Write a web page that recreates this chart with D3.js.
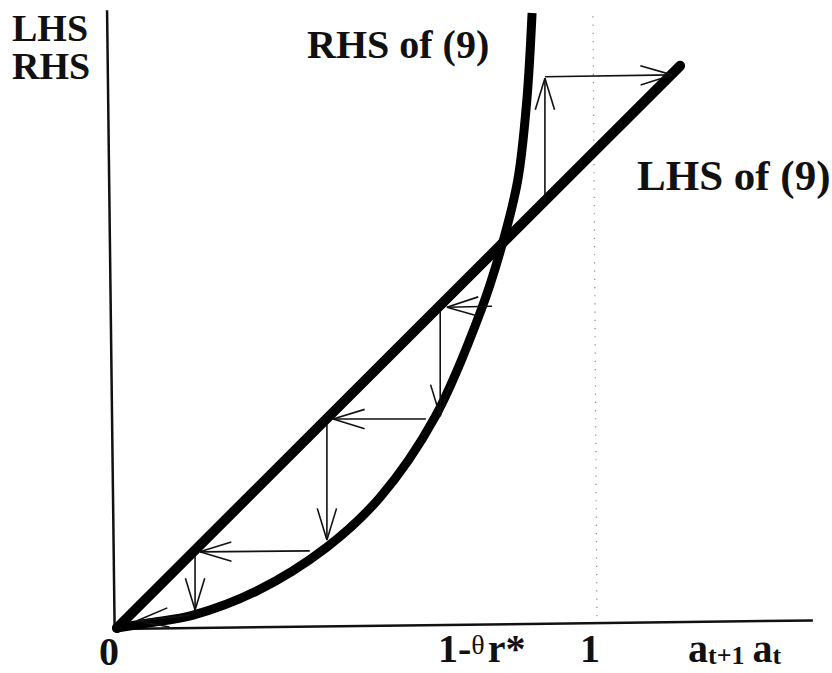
<!DOCTYPE html>
<html>
<head>
<meta charset="utf-8">
<script src="https://cdn.jsdelivr.net/npm/d3@7"></script>
<style>
  body { margin: 0; background: #fff; }
</style>
</head>
<body>
<div id="chart"></div>
<script>
// RHS of (9) (x = a_t, y = value)
var rhsX = [0, 0.069, 0.160, 0.294, 0.441, 0.553, 0.668, 0.765, 0.809, 0.842, 0.861, 0.872];
var rhsY = [0, 0.011, 0.027, 0.078, 0.170, 0.275, 0.443, 0.668, 0.805, 0.941, 1.109, 1.292];

// LHS of (9): straight line
var lhsX = [0, 1.183];
var lhsY = [0, 1.181];

// cobweb arrows [x1, y1, x2, y2]
var arrows = [
  [0.899, 0.897, 0.899, 1.155],
  [0.899, 1.158, 1.166, 1.162],
  [0.788, 0.676, 0.693, 0.674],
  [0.679, 0.666, 0.679, 0.445],
  [0.649, 0.439, 0.454, 0.439],
  [0.441, 0.428, 0.441, 0.185],
  [0.405, 0.162, 0.174, 0.160],
  [0.164, 0.151, 0.164, 0.038],
  [0.153, 0.027, 0.042, 0.015]
];

var oneX = 1;        // position of the "1" mark
var xMax = 1.462, yMax = 1.298;

var width = 832, height = 673;
var serif = "Liberation Serif, DejaVu Serif, Tinos, Times New Roman, Times, serif";

var x = d3.scaleLinear().domain([0, 1]).range([117, 593]);
var y = d3.scaleLinear().domain([0, 1]).range([628, 152]);

var svg = d3.select("#chart").append("svg")
    .attr("width", width)
    .attr("height", height);

// axes (the scan is turned a little)
var axes = svg.append("g")
    .attr("transform", "rotate(-0.7," + x(0) + "," + y(0) + ")");

axes.append("line")
    .attr("x1", x(-0.005)).attr("y1", y(0))
    .attr("x2", x(-0.005)).attr("y2", y(yMax))
    .attr("stroke", "#111").attr("stroke-width", 2.5);

axes.append("line")
    .attr("x1", x(-0.005)).attr("y1", y(-0.002))
    .attr("x2", x(xMax)).attr("y2", y(-0.002))
    .attr("stroke", "#111").attr("stroke-width", 2.5);

// dotted line at 1
svg.append("line")
    .attr("x1", x(oneX)).attr("y1", y(1.285))
    .attr("x2", x(oneX) + 4).attr("y2", y(0.01))
    .attr("stroke", "#888").attr("stroke-width", 1.2)
    .attr("stroke-dasharray", "1.2,7");

var line = d3.line()
    .x(function (d) { return x(d[0]); })
    .y(function (d) { return y(d[1]); });

// LHS line
svg.append("path")
    .attr("d", line(d3.zip(lhsX, lhsY)))
    .attr("fill", "none")
    .attr("stroke", "#000")
    .attr("stroke-width", 10)
    .attr("stroke-linecap", "round");

// RHS curve
svg.append("path")
    .attr("d", line.curve(d3.curveCatmullRom.alpha(0.5))(d3.zip(rhsX, rhsY)))
    .attr("fill", "none")
    .attr("stroke", "#000")
    .attr("stroke-width", 9);

// cobweb arrows
var headLen = 33, headAng = 17 * Math.PI / 180;
var ag = svg.append("g")
    .attr("stroke", "#111")
    .attr("stroke-width", 1.6)
    .attr("fill", "none");

arrows.forEach(function (a) {
    var x1 = x(a[0]), y1 = y(a[1]), x2 = x(a[2]), y2 = y(a[3]);
    ag.append("line").attr("x1", x1).attr("y1", y1).attr("x2", x2).attr("y2", y2);
    var ang = Math.atan2(y1 - y2, x1 - x2);
    [-headAng, headAng].forEach(function (s) {
        ag.append("line")
            .attr("x1", x2).attr("y1", y2)
            .attr("x2", x2 + headLen * Math.cos(ang + s))
            .attr("y2", y2 + headLen * Math.sin(ang + s));
    });
});

// origin dot
svg.append("circle")
    .attr("cx", x(0)).attr("cy", y(0)).attr("r", 5)
    .attr("fill", "#000");

// labels
function label(px, py, size, txt) {
    return svg.append("text")
        .attr("x", px).attr("y", py)
        .attr("font-family", serif)
        .attr("font-weight", "bold")
        .attr("font-size", size)
        .attr("fill", "#111")
        .text(txt);
}

label(12, 41, 38, "LHS");
label(12, 79, 38, "RHS");
label(307, 58, 40, "RHS of (9)");
label(637, 190, 43, "LHS of (9)");
label(99, 665, 40, "0");
label(580, 662, 40, "1");

var t1 = label(438, 662, 40, "");
t1.append("tspan").text("1-");
t1.append("tspan").attr("font-size", 28).attr("font-weight", "normal").attr("dy", -8).text("\u03B8");
t1.append("tspan").attr("dy", 8).attr("dx", 3).text("r*");

var t2 = label(688, 662, 40, "");
t2.append("tspan").text("a");
t2.append("tspan").attr("font-size", 26).attr("dy", 2).text("t+1");
t2.append("tspan").attr("dy", -2).attr("dx", 8).text("a");
t2.append("tspan").attr("font-size", 26).attr("dy", 2).text("t");
</script>
</body>
</html>
